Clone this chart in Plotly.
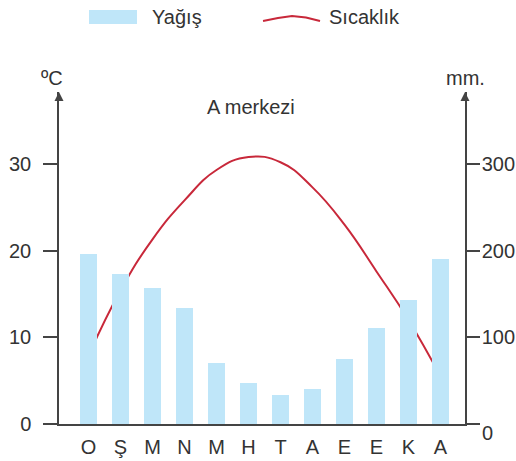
import plotly.graph_objects as go

# Monthly climate data for station "A"
months = ["O", "Ş", "M", "N", "M", "H", "T", "A", "E", "E", "K", "A"]
rain_mm = [196, 173, 157, 134, 70, 47, 33, 40, 75, 111, 143, 190]
temp_c = [7.9, 15.4, 21.3, 25.8, 29.3, 30.8, 30.2, 27.3, 23.0, 17.6, 12.0, 5.5]
temp_ticks = [0, 10, 20, 30]
rain_ticks = [0, 100, 200, 300]

W, H = 516, 461
L, R, T, B = 59, 51, 92, 37
plot_w = W - L - R
plot_h = H - T - B

BAR = "#bfe6f9"
LINE = "#c8283a"
TXT = "#333333"
AX = "#444444"
FONT = "Liberation Sans, Arial, sans-serif"


def px(x, y):
    """Pixel position -> paper coordinates."""
    return (x - L) / plot_w, (H - B - y) / plot_h


x_idx = list(range(len(months)))

fig = go.Figure()
fig.add_trace(go.Bar(
    x=x_idx, y=rain_mm, yaxis="y2", width=0.53,
    marker=dict(color=BAR, line=dict(width=0)),
    name="Yağış", showlegend=False,
))
fig.add_trace(go.Scatter(
    x=x_idx, y=temp_c, mode="lines",
    line=dict(color=LINE, width=2, shape="spline", smoothing=1.3),
    name="Sıcaklık", showlegend=False,
))

shapes = []
annotations = []

# legend: bar swatch
x0, y0 = px(89, 24)
x1, y1 = px(137, 10)
shapes.append(dict(type="rect", xref="paper", yref="paper", x0=x0, y0=y0, x1=x1, y1=y1,
                   fillcolor=BAR, line=dict(width=0), layer="above"))
# legend: line swatch (gentle arc)
pts = [(263, 21), (278, 18), (292, 16), (306, 17.5), (320, 21)]
path = "M " + " L ".join("%.4f,%.4f" % px(a, b) for a, b in pts)
shapes.append(dict(type="path", xref="paper", yref="paper", path=path,
                   line=dict(color=LINE, width=2)))
for text, xs in (("Yağış", 150), ("Sıcaklık", 327)):
    ax_, ay_ = px(xs, 17)
    annotations.append(dict(text=text, xref="paper", yref="paper", x=ax_, y=ay_,
                            xanchor="left", yanchor="middle", showarrow=False,
                            font=dict(size=20, color=TXT, family=FONT)))

# axis units
ux, uy = px(52, 78)
annotations.append(dict(text="ºC", xref="paper", yref="paper", x=ux, y=uy,
                        xanchor="center", yanchor="middle", showarrow=False,
                        font=dict(size=20, color=TXT, family=FONT)))
ux, uy = px(465, 78)
annotations.append(dict(text="mm.", xref="paper", yref="paper", x=ux, y=uy,
                        xanchor="center", yanchor="middle", showarrow=False,
                        font=dict(size=20, color=TXT, family=FONT)))

# title inside plot
tx, ty = px(251, 107)
annotations.append(dict(text="A merkezi", xref="paper", yref="paper", x=tx, y=ty,
                        xanchor="center", yanchor="middle", showarrow=False,
                        font=dict(size=20, color=TXT, family=FONT)))

# right-axis zero label sits below the baseline
zx, zy = px(480, 433)
annotations.append(dict(text="0", xref="paper", yref="paper", x=zx, y=zy,
                        xanchor="left", yanchor="middle", showarrow=False,
                        font=dict(size=20, color=TXT, family=FONT)))

# arrowheads on both vertical axes
for xp in (0, 1):
    annotations.append(dict(text="", xref="paper", yref="paper", x=xp, y=1,
                            showarrow=True, ax=0, ay=8, arrowhead=2, arrowsize=1.2,
                            arrowwidth=1.5, arrowcolor=AX))

fig.update_layout(
    width=W, height=H,
    margin=dict(l=L, r=R, t=T, b=B, pad=0, autoexpand=False),
    paper_bgcolor="white", plot_bgcolor="white",
    font=dict(family=FONT, color=TXT, size=20),
    shapes=shapes, annotations=annotations,
    bargap=0,
    xaxis=dict(
        range=[-0.922, 11.766], tickmode="array", tickvals=x_idx, ticktext=months,
        showgrid=False, zeroline=False, showline=True, linecolor=AX, linewidth=1.5,
        ticks="", tickfont=dict(size=20, color=TXT, family=FONT),
        ticklabelstandoff=4, fixedrange=True, automargin=False,
    ),
    yaxis=dict(
        range=[0, 38.3], tickmode="array", tickvals=temp_ticks,
        ticktext=[str(v) for v in temp_ticks],
        showgrid=False, zeroline=False, showline=True, linecolor=AX, linewidth=1.5,
        ticks="outside", ticklen=14, tickwidth=1.5, tickcolor=AX,
        tickfont=dict(size=20, color=TXT, family=FONT), ticklabelstandoff=8,
        automargin=False,
    ),
    yaxis2=dict(
        range=[0, 383], overlaying="y", side="right", tickmode="array",
        tickvals=rain_ticks, ticktext=["" if v == 0 else str(v) for v in rain_ticks],
        showgrid=False, zeroline=False, showline=True, linecolor=AX, linewidth=1.5,
        ticks="outside", ticklen=13, tickwidth=1.5, tickcolor=AX,
        tickfont=dict(size=20, color=TXT, family=FONT), ticklabelstandoff=-2,
        automargin=False,
    ),
)

fig.write_html("out.html")
